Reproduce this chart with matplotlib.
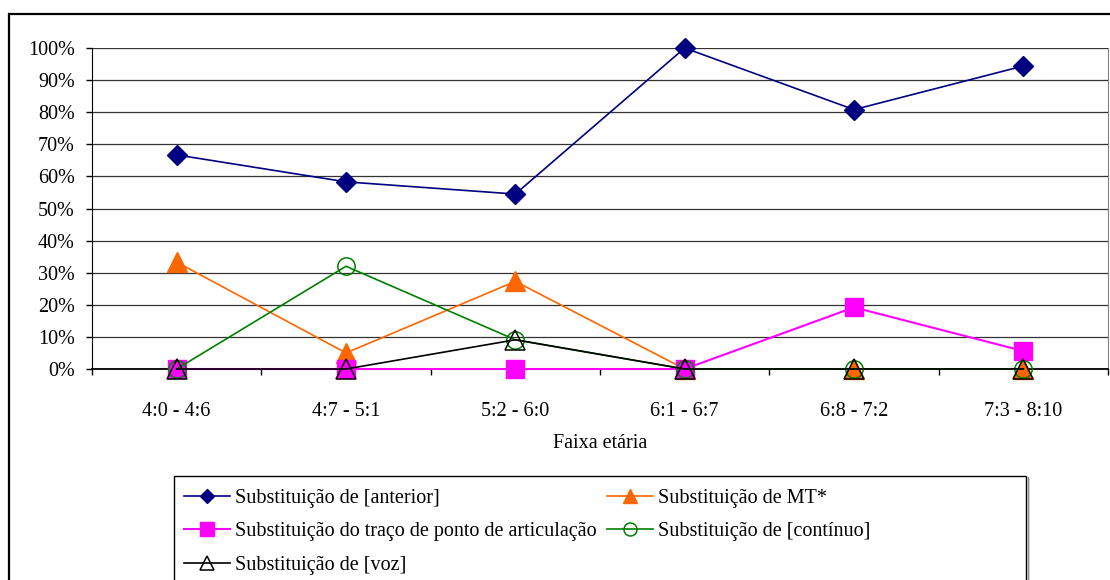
import numpy as np
import matplotlib
matplotlib.use('Agg')
import matplotlib.pyplot as plt
from matplotlib.patches import Rectangle
from matplotlib.ticker import FixedLocator, PercentFormatter

# Faixas etárias e percentagens
faixas = ['4:0 - 4:6', '4:7 - 5:1', '5:2 - 6:0', '6:1 - 6:7', '6:8 - 7:2', '7:3 - 8:10']
anterior = [66.7, 58.3, 54.5, 100.0, 80.8, 94.4]
mt = [33.3, 5.0, 27.3, 0.0, 0.0, 0.0]
traco = [0.0, 0.0, 0.0, 0.0, 19.2, 5.6]
continuo = [0.0, 32.0, 9.1, 0.0, 0.0, 0.0]
voz = [0.0, 0.0, 9.1, 0.0, 0.0, 0.0]

plt.rcParams['font.family'] = ['Liberation Serif', 'DejaVu Serif']
plt.rcParams['font.size'] = 14.5

W, H = 1110, 580
fig = plt.figure(figsize=(W / 100, H / 100), dpi=100)
ax = fig.add_axes([92 / W, (H - 369) / H, (1108 - 92) / W, 321 / H])

x = np.arange(len(faixas))
h1, = ax.plot(x, anterior, '-', color='#000080', lw=1.2, marker='D', ms=10,
              mfc='#000080', mec='#000080', clip_on=False, zorder=3)
h2, = ax.plot(x, mt, '-', color='#FF6600', lw=1.2, marker='^', ms=14,
              mfc='#FF6600', mec='#FF6600', clip_on=False, zorder=3)
h3, = ax.plot(x, traco, '-', color='#FF00FF', lw=1.5, marker='s', ms=13,
              mfc='#FF00FF', mec='#FF00FF', clip_on=False, zorder=3)
h4, = ax.plot(x, continuo, '-', color='#008000', lw=1.2, marker='o', ms=12.5,
              mfc='none', mec='#008000', mew=1.1, clip_on=False, zorder=3)
h5, = ax.plot(x, voz, '-', color='black', lw=1.2, marker='^', ms=14,
              mfc='none', mec='black', mew=1.1, clip_on=False, zorder=3)

ax.set_xlim(-0.5, len(faixas) - 0.5)
ax.set_ylim(0, 100)
ax.set_yticks(np.arange(0, 101, 10))
ax.yaxis.set_major_formatter(PercentFormatter(decimals=0))
ax.yaxis.grid(True, color='#333333', lw=0.9)
ax.set_axisbelow(True)

ax.set_xticks(x)
ax.set_xticklabels(faixas)
ax.xaxis.set_minor_locator(FixedLocator(np.arange(-0.5, len(faixas), 1.0)))
ax.tick_params(axis='x', which='major', length=0, pad=24)
ax.tick_params(axis='x', which='minor', length=4.5, width=1, direction='out')
ax.tick_params(axis='y', length=4.5, width=1, direction='out', pad=8)
ax.set_xlabel('Faixa etária', labelpad=9)

ax.spines['top'].set_visible(False)
ax.spines['right'].set_color('#808080')
ax.spines['left'].set_color('black')
ax.spines['bottom'].set_color('black')
ax.spines['bottom'].set_linewidth(1.3)

# moldura exterior
fig.patches.append(Rectangle((9 / W, -0.1), 1.2, (H - 14) / H + 0.1,
                             transform=fig.transFigure, fill=False,
                             lw=1.6, ec='black'))

labels = ['Substituição de [anterior]',
          'Substituição do traço de ponto de articulação',
          'Substituição de [voz]',
          'Substituição de MT*',
          'Substituição de [contínuo]']
leg = fig.legend([h1, h3, h5, h2, h4], labels, ncol=2,
                 loc='upper left', bbox_to_anchor=(174 / W, (H - 479) / H),
                 frameon=False, borderaxespad=0, borderpad=0.5,
                 handlelength=2.3, handletextpad=0.25, columnspacing=0.5,
                 labelspacing=0.7, markerscale=0.75)

# caixa da legenda (mais larga que o conteúdo, como no original)
fig.patches.append(Rectangle((174 / W, -0.1), (1026 - 174) / W,
                             (H - 476) / H + 0.1, transform=fig.transFigure,
                             fill=False, lw=1.0, ec='black', zorder=0))
fig.patches.append(Rectangle((1027.5 / W, -0.1), 0, (H - 477) / H + 0.1,
                             transform=fig.transFigure, fill=False,
                             lw=1.0, ec='#909090', zorder=0))

fig.savefig('out.png', dpi=100)
